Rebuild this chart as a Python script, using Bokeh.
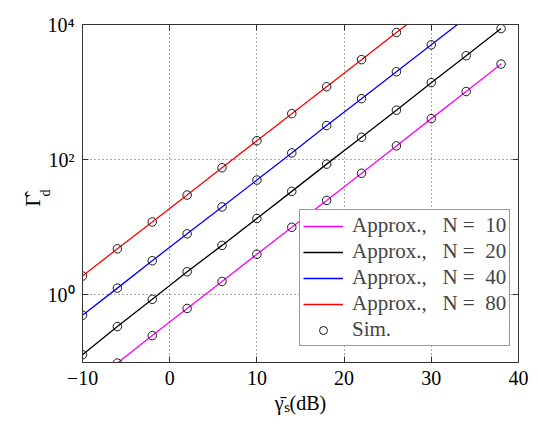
import numpy as np
from bokeh.plotting import figure
from bokeh.models import (Range1d, FixedTicker, CustomJSTickFormatter, LinearAxis, LogAxis,
                          Legend, LegendItem, Title)
from bokeh.embed import file_html
from bokeh.resources import INLINE

# ---- data ----
x_db = [-10, -6, -2, 2, 6, 10, 14, 18, 22, 26, 30, 34, 38]
gamma_n10 = [0.039, 0.098, 0.25, 0.63, 1.58, 4.0, 10.0, 25.0, 63.0, 160.0, 405.0, 1020.0, 2600.0]
gamma_n20 = [0.13, 0.34, 0.86, 2.2, 5.4, 13.5, 34.0, 86.0, 215.0, 540.0, 1380.0, 3450.0, 8700.0]
gamma_n40 = [0.5, 1.26, 3.2, 8.0, 20.0, 50.0, 126.0, 320.0, 800.0, 2000.0, 5000.0, 12600.0, 32000.0]
gamma_n80 = [1.9, 4.8, 12.0, 30.0, 76.0, 191.0, 480.0, 1200.0, 3020.0, 7600.0, 19000.0, 48000.0, 120000.0]
n_values = ["10", "20", "40", "80"]
series_labels = ["Approx.,   N =  " + n for n in n_values]
sim_label = "Sim."
x_ticks = [-10, 0, 10, 20, 30, 40]
y_ticks = [1, 100, 10000]
x_label = "\u03b3\u0304\u209b(dB)"
y_label_main = "\u0393\u0302"
y_label_sub = "d"

FONT = "Liberation Serif"
colors = ["#ff00ff", "#000000", "#0000ff", "#ff0000"]

p = figure(width=538, height=430, x_range=Range1d(-10, 40), y_range=Range1d(0.1, 1e4),
           y_axis_type="log", output_backend="svg", toolbar_location=None,
           min_border_left=82, min_border_right=20, min_border_top=24, min_border_bottom=68)
p.outline_line_color = "#333333"
p.background_fill_color = "white"

items = []
all_series = [gamma_n10, gamma_n20, gamma_n40, gamma_n80]
for vals, col, lab in zip(all_series, colors, series_labels):
    r = p.line(x_db, vals, line_color=col, line_width=1.3)
    items.append(LegendItem(label=lab, renderers=[r]))

sim_r = None
for vals in all_series:
    xs = [x for x, v in zip(x_db, vals) if 0.08 <= v <= 1e4]
    ys = [v for v in vals if 0.08 <= v <= 1e4]
    sim_r = p.scatter(xs, ys, marker="circle", size=8.5, fill_color=None,
                      line_color="black", line_width=0.9)
items.append(LegendItem(label=sim_label, renderers=[sim_r]))

yfmt = CustomJSTickFormatter(code="""
const e = Math.round(Math.log10(tick));
const sup = {'0':'\\u2070','1':'\\u00b9','2':'\\u00b2','3':'\\u00b3','4':'\\u2074','-':'\\u207b'};
return '10' + String(e).split('').map(c => sup[c]).join('');
""")
xfmt = CustomJSTickFormatter(code="""
return tick < 0 ? '\\u2212' + String(Math.abs(tick)) : String(tick);
""")
blank = CustomJSTickFormatter(code="return '';")

for ax in p.xaxis:
    ax.ticker = FixedTicker(ticks=x_ticks)
    ax.formatter = xfmt
    ax.axis_label = x_label
    ax.axis_label_text_font = FONT
    ax.axis_label_text_font_size = "20px"
    ax.axis_label_text_font_style = "normal"
    ax.axis_label_text_color = "black"
    ax.axis_label_standoff = 4
for ax in p.yaxis:
    ax.ticker = FixedTicker(ticks=y_ticks)
    ax.formatter = yfmt

for ax in list(p.xaxis) + list(p.yaxis):
    ax.major_tick_in = 6
    ax.major_tick_out = 0
    ax.minor_tick_in = 0
    ax.minor_tick_out = 0
    ax.axis_line_color = "#333333"
    ax.major_tick_line_color = "#333333"
    ax.major_label_text_font = FONT
    ax.major_label_text_font_size = "20px"
    ax.major_label_text_color = "black"
    ax.major_label_standoff = 8

top = LinearAxis(ticker=FixedTicker(ticks=x_ticks), formatter=blank, major_tick_in=6,
                 major_tick_out=0, minor_tick_in=0, minor_tick_out=0,
                 axis_line_color="#333333", major_tick_line_color="#333333", major_label_standoff=0)
right = LogAxis(ticker=FixedTicker(ticks=y_ticks), formatter=blank, major_tick_in=6,
                major_tick_out=0, minor_tick_in=0, minor_tick_out=0,
                axis_line_color="#333333", major_tick_line_color="#333333", major_label_standoff=0)
p.add_layout(top, "above")
p.add_layout(right, "right")

# y-axis label: main symbol plus subscript, as titles in the left panel
t_sub = Title(text=y_label_sub, align="left", vertical_align="bottom", offset=166,
              standoff=-17, text_font=FONT, text_font_size="14px",
              text_font_style="normal", text_color="black")
t_main = Title(text=y_label_main, align="left", vertical_align="bottom", offset=156,
               standoff=0, text_font=FONT, text_font_size="21px",
               text_font_style="normal", text_color="black")
p.add_layout(t_sub, "left")
p.add_layout(t_main, "left")

p.xgrid.ticker = FixedTicker(ticks=[0, 10, 20, 30])
p.ygrid.ticker = FixedTicker(ticks=[1, 100])
for g in (p.xgrid, p.ygrid):
    g.grid_line_color = "#555555"
    g.grid_line_dash = "1 3"
    g.grid_line_width = 1

legend = Legend(items=items, location=(217, 16), border_line_color="#333333",
                border_line_width=1, label_text_font=FONT, label_text_font_size="21px",
                glyph_width=40, glyph_height=20, label_height=20, label_standoff=9,
                spacing=1, padding=3, margin=0, background_fill_alpha=1)
p.add_layout(legend, "center")

open("out.html", "w").write(file_html(p, INLINE))
